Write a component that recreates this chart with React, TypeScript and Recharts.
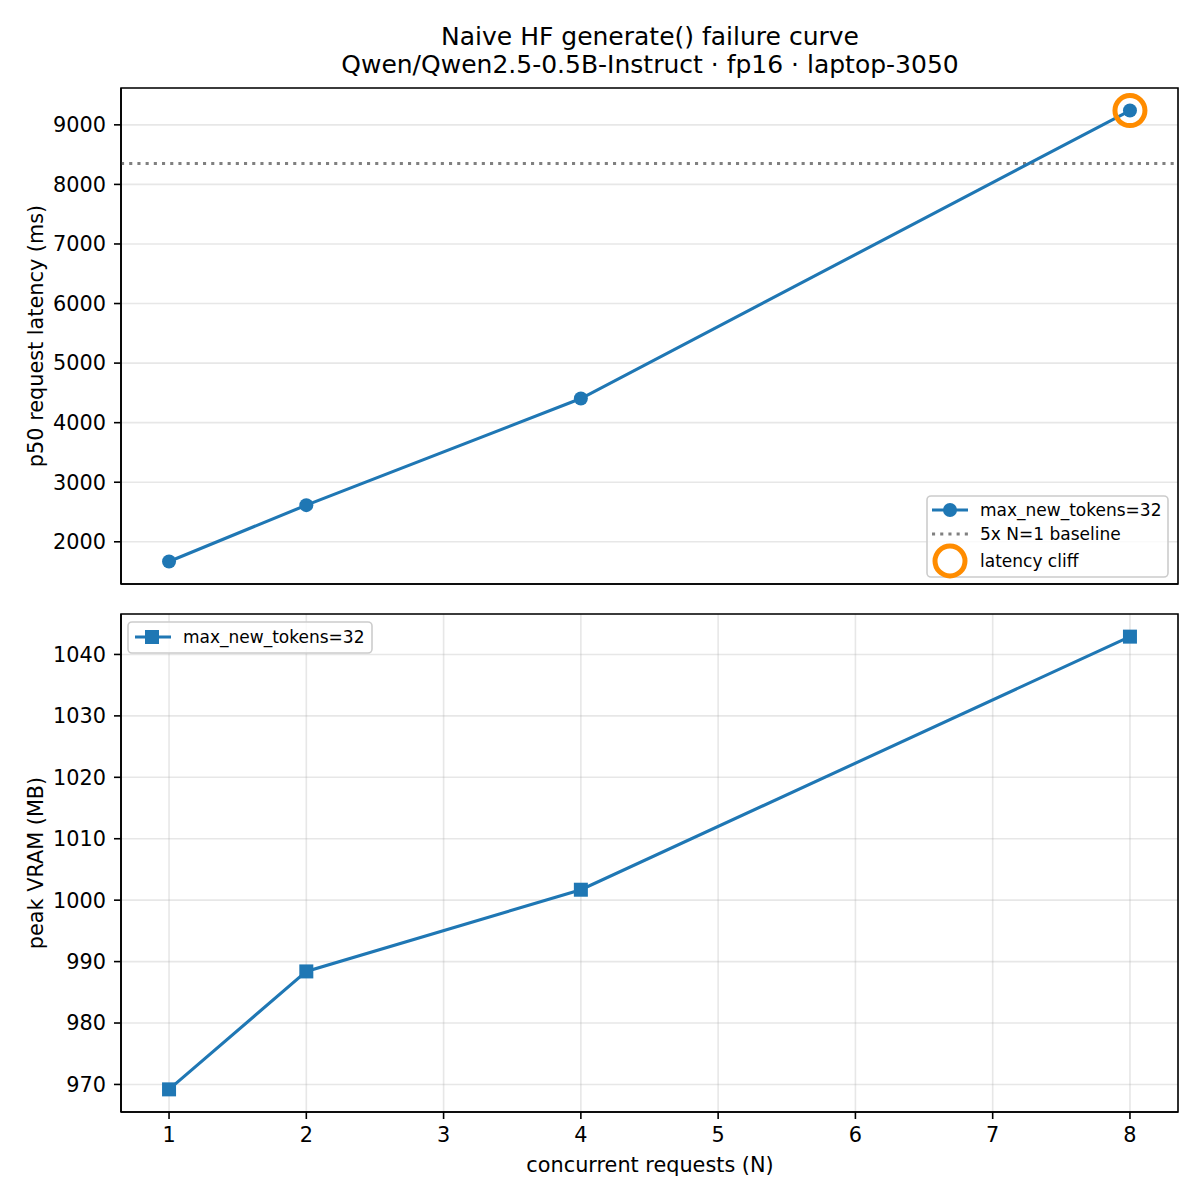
import {
  CartesianGrid,
  Line,
  LineChart,
  ReferenceArea,
  ReferenceDot,
  ReferenceLine,
  XAxis,
  YAxis,
} from "recharts";

// concurrent requests and the measurements read per N
const N = [1, 2, 4, 8];
const latencyMs = [1670, 2615, 4405, 9240];
const vramMb = [969.2, 988.4, 1001.7, 1042.9];

const nTicks = [1, 2, 3, 4, 5, 6, 7, 8];
const latencyTicks = [2000, 3000, 4000, 5000, 6000, 7000, 8000, 9000];
const vramTicks = [970, 980, 990, 1000, 1010, 1020, 1030, 1040];

const BASELINE_MULT = 5;
const seriesLabel = "max_new_tokens=32";
const baselineLabel = "5x N=1 baseline";
const cliffLabel = "latency cliff";

const titleLines = [
  "Naive HF generate() failure curve",
  "Qwen/Qwen2.5-0.5B-Instruct · fp16 · laptop-3050",
];

const BLUE = "#1f77b4";
const ORANGE = "#ff8c00";
const GREY = "#808080";
const FONT = "DejaVu Sans, sans-serif";

// matplotlib-style 5% autoscale margin
function pad(values: number[]): [number, number] {
  const lo = Math.min(...values);
  const hi = Math.max(...values);
  const m = (hi - lo) * 0.05;
  return [lo - m, hi + m];
}

const latencyData = N.map((n, i) => ({ n, ms: latencyMs[i] }));
const vramData = N.map((n, i) => ({ n, mb: vramMb[i] }));
const baselineMs = latencyMs[0] * BASELINE_MULT;
const lastIdx = N.length - 1;

const axisStroke = { stroke: "#000", strokeWidth: 1.6 };
const tickFont = { fill: "#000", fontSize: 20.8, fontFamily: FONT };

function SquareDot(p: any) {
  if (p.cx == null || p.cy == null) return <g key={p.index} />;
  return <rect key={p.index} x={p.cx - 7} y={p.cy - 7} width={14} height={14} fill={BLUE} />;
}

export default function App() {
  const xDomain = pad(N);
  const latDomain = pad(latencyMs);
  const vramDomain = pad(vramMb);

  return (
    <div
      style={{
        position: "absolute",
        left: 0,
        top: 0,
        width: 1200,
        height: 1200,
        background: "#fff",
        fontFamily: FONT,
      }}
    >
      <div style={{ position: "absolute", left: 0, top: 0 }}>
        <LineChart width={1200} height={600} data={latencyData} margin={{ top: 88, right: 22, bottom: 0, left: 0 }}>
          <CartesianGrid stroke="#b0b0b0" strokeOpacity={0.3} strokeWidth={1.6} />
          <XAxis
            type="number"
            dataKey="n"
            domain={xDomain}
            allowDataOverflow
            ticks={nTicks}
            height={16}
            tick={false}
            tickSize={7}
            tickLine={axisStroke}
            axisLine={axisStroke}
          />
          <YAxis
            type="number"
            domain={latDomain}
            allowDataOverflow
            ticks={latencyTicks}
            width={121}
            tickSize={7}
            tickMargin={8}
            tick={tickFont}
            tickLine={axisStroke}
            axisLine={axisStroke}
          />
          <ReferenceLine y={baselineMs} stroke={GREY} strokeWidth={3.1} strokeDasharray="3.1 5.1" />
          <Line
            type="linear"
            dataKey="ms"
            stroke={BLUE}
            strokeWidth={3.1}
            dot={{ r: 7, fill: BLUE, stroke: BLUE, strokeWidth: 0 }}
            activeDot={false}
            isAnimationActive={false}
          />
          <ReferenceDot
            x={N[lastIdx]}
            y={latencyMs[lastIdx]}
            r={15}
            fill="none"
            stroke={ORANGE}
            strokeWidth={5}
          />
          {/* axes frame */}
          <ReferenceArea
            x1={xDomain[0]}
            x2={xDomain[1]}
            y1={latDomain[0]}
            y2={latDomain[1]}
            fill="none"
            stroke="#000"
            strokeWidth={1.6}
            ifOverflow="visible"
          />
        </LineChart>
      </div>

      <div style={{ position: "absolute", left: 0, top: 600 }}>
        <LineChart width={1200} height={600} data={vramData} margin={{ top: 14, right: 22, bottom: 0, left: 0 }}>
          <CartesianGrid stroke="#b0b0b0" strokeOpacity={0.3} strokeWidth={1.6} />
          <XAxis
            type="number"
            dataKey="n"
            domain={xDomain}
            allowDataOverflow
            ticks={nTicks}
            height={88}
            tickSize={7}
            tickMargin={8}
            tick={tickFont}
            tickLine={axisStroke}
            axisLine={axisStroke}
          />
          <YAxis
            type="number"
            domain={vramDomain}
            allowDataOverflow
            ticks={vramTicks}
            width={121}
            tickSize={7}
            tickMargin={8}
            tick={tickFont}
            tickLine={axisStroke}
            axisLine={axisStroke}
          />
          <Line
            type="linear"
            dataKey="mb"
            stroke={BLUE}
            strokeWidth={3.1}
            dot={SquareDot}
            activeDot={false}
            isAnimationActive={false}
          />
          <ReferenceArea
            x1={xDomain[0]}
            x2={xDomain[1]}
            y1={vramDomain[0]}
            y2={vramDomain[1]}
            fill="none"
            stroke="#000"
            strokeWidth={1.6}
            ifOverflow="visible"
          />
        </LineChart>
      </div>

      {/* titles, axis labels, legends */}
      <svg
        width={1200}
        height={1200}
        style={{ position: "absolute", left: 0, top: 0, pointerEvents: "none" }}
        fontFamily={FONT}
      >
        <text x={650} y={45} fontSize={25} textAnchor="middle" fill="#000">
          {titleLines[0]}
        </text>
        <text x={650} y={73} fontSize={25} textAnchor="middle" fill="#000">
          {titleLines[1]}
        </text>
        <text transform="translate(43,336) rotate(-90)" fontSize={20.8} textAnchor="middle" fill="#000">
          p50 request latency (ms)
        </text>
        <text transform="translate(43,863) rotate(-90)" fontSize={20.8} textAnchor="middle" fill="#000">
          peak VRAM (MB)
        </text>
        <text x={650} y={1172} fontSize={20.8} textAnchor="middle" fill="#000">
          concurrent requests (N)
        </text>

        {/* top legend */}
        <rect x={927} y={496} width={241} height={81} rx={4} fill="#fff" fillOpacity={0.8} stroke="#cccccc" strokeWidth={1.6} />
        <line x1={932} x2={968} y1={510} y2={510} stroke={BLUE} strokeWidth={3.1} />
        <circle cx={950} cy={510} r={7} fill={BLUE} />
        <text x={980} y={516} fontSize={17} fill="#000">{seriesLabel}</text>
        <line x1={932} x2={968} y1={534} y2={534} stroke={GREY} strokeWidth={3.1} strokeDasharray="3.1 5.1" />
        <text x={980} y={540} fontSize={17} fill="#000">{baselineLabel}</text>
        <circle cx={950} cy={561} r={15} fill="none" stroke={ORANGE} strokeWidth={5} />
        <text x={980} y={567} fontSize={17} fill="#000">{cliffLabel}</text>

        {/* bottom legend */}
        <rect x={128} y={622} width={244} height={31} rx={4} fill="#fff" fillOpacity={0.8} stroke="#cccccc" strokeWidth={1.6} />
        <line x1={135} x2={171} y1={637} y2={637} stroke={BLUE} strokeWidth={3.1} />
        <rect x={145} y={630} width={14} height={14} fill={BLUE} />
        <text x={183} y={643} fontSize={17} fill="#000">{seriesLabel}</text>
      </svg>
    </div>
  );
}
